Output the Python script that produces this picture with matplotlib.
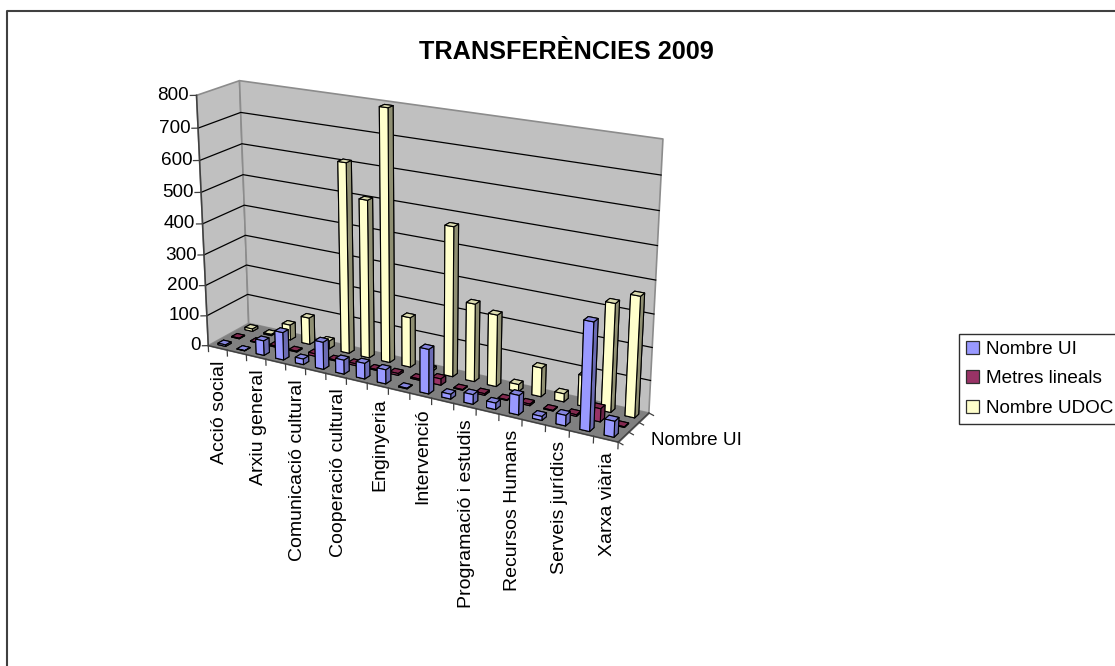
import numpy as np
import matplotlib
matplotlib.use("Agg")
import matplotlib.pyplot as plt
from matplotlib.lines import Line2D
from matplotlib.patches import Patch
from mpl_toolkits.mplot3d.art3d import Poly3DCollection

plt.rcParams['font.family'] = ['Liberation Sans', 'DejaVu Sans']

title = "TRANSFERÈNCIES 2009"
categories = ["Acció social", "", "Arxiu general", "", "Comunicació cultural", "",
              "Cooperació cultural", "", "Enginyeria", "", "Intervenció", "",
              "Programació i estudis", "", "Recursos Humans", "", "Serveis jurídics", "",
              "Xarxa viària"]
series_names = ["Nombre UI", "Metres lineals", "Nombre UDOC"]
nombre_ui = [5, 1, 48, 90, 18, 88, 45, 50, 45, 2, 140, 15, 30, 20, 60, 12, 32, 325, 48]
metres_lineals = [2, 2, 4, 3, 8, 3, 6, 3, 6, 4, 20, 2, 5, 2, 5, 2, 5, 40, 2]
nombre_udoc = [8, 4, 50, 88, 25, 610, 505, 795, 160, 8, 470, 245, 225, 22, 90, 25, 95, 330, 365]
z_ticks = [0, 100, 200, 300, 400, 500, 600, 700, 800]

front = ['#9999FF', '#993366', '#FFFFCC']
side = ['#6B6BB3', '#6B2447', '#8F8F72']
top = ['#8585DE', '#82294F', '#DCDCB0']

W, H = 1115, 666
N = len(categories)
XMAX, YMAX, ZMAX = float(N), 3.0, 800.0
FS = 13.6

# Camera: a projective map from the chart's data space to picture pixels
world = [(0, 0, 0), (XMAX, 0, 0), (0, YMAX, 0), (XMAX, YMAX, 0),
         (0, 0, ZMAX), (0, YMAX, ZMAX), (XMAX, YMAX, ZMAX)]
image = [(208, 346), (618, 442), (249, 323), (649, 413),
         (197, 95), (239, 81), (663, 139)]
rows, rhs = [], []
for (wx, wy, wz), (u, v) in zip(world, image):
    zn = wz / ZMAX
    rows.append([wx, wy, zn, 1, 0, 0, 0, 0, -u * wx, -u * wy, -u * zn]); rhs.append(u)
    rows.append([0, 0, 0, 0, wx, wy, zn, 1, -v * wx, -v * wy, -v * zn]); rhs.append(v)
sol = np.linalg.lstsq(np.array(rows, float), np.array(rhs, float), rcond=None)[0]
P = np.array(list(sol) + [1.0]).reshape(3, 4)
P[:, 2] /= ZMAX


def to_pixels(x, y, z):
    q = P @ np.array([x, y, z, 1.0])
    return q[0] / q[2], q[1] / q[2]


fig = plt.figure(figsize=(W / 100, H / 100), dpi=100, facecolor='white')
ax = fig.add_axes([0, 0, 1, 1], projection='3d', anchor='W')
ax.set_axis_off()
ax.patch.set_visible(False)
ax.computed_zorder = False


def chart_proj():
    inv = ax.transData.inverted().get_matrix()
    flip = np.array([[1, 0, 0], [0, -1, H], [0, 0, 1]], float)
    Q = inv @ flip @ P
    return np.array([Q[0], Q[1], [0, 0, 0, -1], Q[2]])


ax.get_proj = chart_proj

# Walls and floor
wall = '#C0C0C0'
floor = '#808080'
walls = [
    [(0, 0, 0), (0, YMAX, 0), (0, YMAX, ZMAX), (0, 0, ZMAX)],
    [(0, YMAX, 0), (XMAX, YMAX, 0), (XMAX, YMAX, ZMAX), (0, YMAX, ZMAX)],
]
ax.add_collection3d(Poly3DCollection(walls, facecolors=wall, edgecolors='#8C8C8C',
                                     linewidths=1.2, zorder=1))
ax.add_collection3d(Poly3DCollection([[(0, 0, 0), (XMAX, 0, 0), (XMAX, YMAX, 0), (0, YMAX, 0)]],
                                     facecolors=floor, edgecolors=floor,
                                     linewidths=0.8, zorder=1))

# Gridlines on both walls
for z in z_ticks[1:-1]:
    ax.plot([0, 0, XMAX], [0, YMAX, YMAX], [z, z, z], color='black', lw=0.9, zorder=2)
ax.plot([0, 0], [0, 0], [0, ZMAX], color='#404040', lw=1.1, zorder=2)
ax.plot([0, XMAX], [0, 0], [0, 0], color='#404040', lw=1.0, zorder=2)
ax.plot([XMAX, XMAX], [0, YMAX], [0, 0], color='#404040', lw=1.0, zorder=2)

# Bars, back row first, and left to right inside a row
BAR = 0.4
order = 3
for s, values in sorted(enumerate([nombre_ui, metres_lineals, nombre_udoc]), key=lambda t: -t[0]):
    colours = [front[s], top[s], front[s], front[s], side[s], side[s]]
    for i, value in enumerate(values):
        ax.bar3d(i + 0.5 - BAR / 2, s + 0.5 - BAR / 2, 0, BAR, BAR, value,
                 color=colours, edgecolor='black', linewidth=0.8, shade=False,
                 zorder=order)
        order += 1

# Axis ticks and labels
DX, DY = 0.21, 0.138
RDX, RDY = 0.243, 0.125
for z in z_ticks:
    ax.plot([0, -DX], [0, -DY], [z, z], color='#404040', lw=0.9, zorder=order)
    px, py = to_pixels(-DX * 1.2, -DY * 1.2, z)
    fig.text(px / W, 1 - py / H, str(z), ha='right', va='center', fontsize=FS, color='black')
for i in range(N + 1):
    ax.plot([i, i], [0, 0], [0, -20], color='#404040', lw=0.9, zorder=order)
for s in range(4):
    ax.plot([XMAX, XMAX + RDX], [s, s - RDY], [0, 0], color='#404040', lw=0.9, zorder=order)
for i, name in enumerate(categories):
    if name:
        px, py = to_pixels(i + 0.5, 0, 0)
        fig.text((px + 2) / W, 1 - (py + 13) / H, name, rotation=90, ha='center', va='top',
                 fontsize=14.0, color='black')
px, py = to_pixels(XMAX + 1.0, 0.77, 0)
fig.text(px / W, 1 - py / H, series_names[0], ha='left', va='center', fontsize=FS, color='black')

# Title, outer frame and legend
fig.text(566 / W, 1 - 52 / H, title, ha='center', va='center', fontsize=18.2,
         fontweight='bold', color='black')
fig.add_artist(Line2D([7 / W, 7 / W, 1], [0, 1 - 11 / H, 1 - 11 / H],
                      color='#404040', lw=1.5, transform=fig.transFigure))
handles = [Patch(facecolor=c, edgecolor='#303030', linewidth=0.9) for c in front]
fig.legend(handles, series_names, loc='upper left', bbox_to_anchor=(959 / W, 1 - 334 / H),
           borderaxespad=0, frameon=True, fancybox=False, edgecolor='#303030',
           framealpha=1, fontsize=FS, handlelength=0.69, handleheight=0.69,
           handletextpad=0.37, labelspacing=0.66, borderpad=0.35)

fig.savefig('out.png', dpi=100)
